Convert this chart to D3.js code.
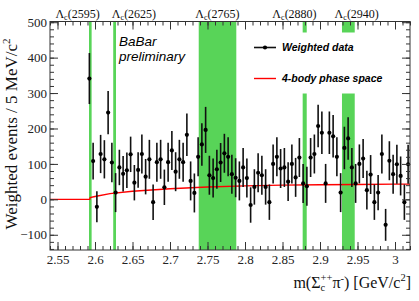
<!DOCTYPE html>
<html><head><meta charset="utf-8">
<script src="https://cdn.jsdelivr.net/npm/d3@7"></script>
<style>
html,body{margin:0;padding:0;background:#fff;}
svg{display:block;}
</style></head>
<body>
<script>
// ---- data ----
const massBins = [2.5925,2.5975,2.6025,2.6075,2.6125,2.6175,2.6225,2.6275,2.6325,2.6375,
2.6425,2.6475,2.6525,2.6575,2.6625,2.6675,2.6725,2.6775,2.6825,2.6875,
2.6925,2.6975,2.7025,2.7075,2.7125,2.7175,2.7225,2.7275,2.7325,2.7375,
2.7425,2.7475,2.7525,2.7575,2.7625,2.7675,2.7725,2.7775,2.7825,2.7875,
2.7925,2.7975,2.8025,2.8075,2.8125,2.8175,2.8225,2.8275,2.8325,2.8375,
2.8425,2.8475,2.8525,2.8575,2.8625,2.8675,2.8725,2.8775,2.8825,2.8875,
2.8925,2.8975,2.9025,2.9075,2.9125,2.9175,2.9225,2.9275,2.9325,2.9375,
2.9425,2.9475,2.9525,2.9575,2.9625,2.9675,2.9725,2.9775,2.9825,2.9875,
2.9925,2.9975,3.0025,3.0075,3.0125,3.0175];
const weighted = [341,108,-21,128,113,245,104,19,90,72,
82,127,47,83,128,64,113,-8,105,113,
34,105,138,78,113,105,182,52,18,120,
155,196,68,60,85,104,130,120,71,61,
52,90,60,-16,35,75,68,35,-8,100,
120,87,90,50,100,62,118,45,37,118,
128,207,188,45,188,178,120,19,145,172,
90,45,100,115,26,70,-8,19,128,-72,
109,71,99,66,-8,99];
const errors = [72,52,44,54,54,61,56,55,50,50,
50,50,50,50,55,50,55,50,55,55,
50,55,55,55,55,55,60,55,55,55,
60,65,55,55,55,55,55,55,55,55,
55,55,55,50,50,55,55,50,50,55,
55,55,55,55,55,55,55,55,55,55,
55,60,60,55,60,60,55,55,60,60,
55,55,55,55,55,55,50,50,55,45,
55,55,55,55,50,55];
const psMass = [2.54,2.593,2.5935,2.60,2.62,2.65,2.70,2.75,2.80,2.85,2.90,2.95,3.00,3.02];
const psValue = [0,0,5,8,16,23,30,35,38,40,41,42,43,43];
const resonances = ["2595","2625","2765","2880","2940"];
const bandLo = [2.592,2.6243,2.7383,2.8769,2.9293];
const bandHi = [2.5955,2.628,2.7884,2.8823,2.9463];
const xTicks = [2.55,2.6,2.65,2.7,2.75,2.8,2.85,2.9,2.95,3];
const xTickLabels = ["2.55","2.6","2.65","2.7","2.75","2.8","2.85","2.9","2.95","3"];
const yTicks = [-100,0,100,200,300,400,500];
const legendLabels = ["Weighted data","4-body phase space"];

// ---- layout ----
const W = 419, H = 301;
const L = 50, R = 410, T = 21.5, B = 250;
const labelMass = [2.5767,2.652,2.7633,2.866,2.949];
const serif = "'Liberation Serif','Times New Roman',serif";
const sans = "'Liberation Sans',Arial,Helvetica,sans-serif";
const green = "#58d458";

const svg = d3.select("body").append("svg").attr("width",W).attr("height",H);
const x = d3.scaleLinear().domain([2.54,3.02]).range([L,R]);
const y = d3.scaleLinear().domain([-143,502]).range([B,T]);

// bands
svg.append("g").selectAll("rect").data(bandLo).join("rect")
  .attr("x",(d)=>x(d)).attr("width",(d,i)=>x(bandHi[i])-x(d))
  .attr("y",T).attr("height",B-T).attr("fill",green);

// phase space curve
const ps = psMass.map((m,i)=>[m,psValue[i]]);
svg.append("path").datum(ps)
  .attr("d",d3.line().x(d=>x(d[0])).y(d=>y(d[1])))
  .attr("fill","none").attr("stroke","#ff0000").attr("stroke-width",1.4);

// data points
const pts = massBins.map((m,i)=>({m,v:weighted[i],e:errors[i]}));
const gd = svg.append("g");
gd.selectAll("line").data(pts).join("line")
  .attr("x1",d=>x(d.m)).attr("x2",d=>x(d.m))
  .attr("y1",d=>y(Math.min(d.v+d.e,502))).attr("y2",d=>y(Math.max(d.v-d.e,-143)))
  .attr("stroke","#111").attr("stroke-width",1.6);
gd.selectAll("circle").data(pts).join("circle")
  .attr("cx",d=>x(d.m)).attr("cy",d=>y(d.v)).attr("r",2.1).attr("fill","#000");

// legend box (white)
svg.append("rect").attr("x",245).attr("y",32.5).attr("width",150).attr("height",61).attr("fill","#fff");
const lg = svg.append("g");
lg.append("line").attr("x1",254).attr("x2",276).attr("y1",47.5).attr("y2",47.5).attr("stroke","#111").attr("stroke-width",1.6);
lg.append("circle").attr("cx",265).attr("cy",47.5).attr("r",2.1).attr("fill","#000");
lg.append("line").attr("x1",254).attr("x2",276).attr("y1",78.5).attr("y2",78.5).attr("stroke","#ff0000").attr("stroke-width",1.4);
lg.selectAll("text").data(legendLabels).join("text")
  .attr("x",282).attr("y",(d,i)=>i?82:51)
  .attr("font-family",sans).attr("font-size",10.5).attr("font-weight","bold").attr("font-style","italic")
  .attr("fill","#000").text(d=>d);

// BaBar preliminary
svg.append("text").attr("x",119).attr("y",46).attr("font-family",sans).attr("font-style","italic")
  .attr("font-size",13.5).text("BaBar");
svg.append("text").attr("x",119).attr("y",61).attr("font-family",sans).attr("font-style","italic")
  .attr("font-size",13.5).text("preliminary");

// axes
const axc = "#333";
function ticksAt(step,lo,hi){const a=[];for(let v=lo;v<=hi+1e-9;v+=step)a.push(+v.toFixed(4));return a;}
const xMinor = ticksAt(0.01,2.54,3.02);
const yMinor = ticksAt(20,-140,500);

svg.append("g").attr("transform",`translate(0,${B})`)
  .call(d3.axisBottom(x).tickValues(xTicks).tickFormat((d,i)=>xTickLabels[i]).tickSize(-8).tickPadding(5));
svg.append("g").attr("transform",`translate(0,${B})`)
  .call(d3.axisBottom(x).tickValues(xMinor).tickFormat("").tickSize(-4));
svg.append("g").attr("transform",`translate(0,${T})`)
  .call(d3.axisTop(x).tickValues(xTicks).tickFormat("").tickSize(-8));
svg.append("g").attr("transform",`translate(0,${T})`)
  .call(d3.axisTop(x).tickValues(xMinor).tickFormat("").tickSize(-4));
svg.append("g").attr("transform",`translate(${L},0)`)
  .call(d3.axisLeft(y).tickValues(yTicks).tickSize(-8).tickPadding(3));
svg.append("g").attr("transform",`translate(${L},0)`)
  .call(d3.axisLeft(y).tickValues(yMinor).tickFormat("").tickSize(-4));
svg.append("g").attr("transform",`translate(${R},0)`)
  .call(d3.axisRight(y).tickValues(yTicks).tickFormat("").tickSize(-8));
svg.append("g").attr("transform",`translate(${R},0)`)
  .call(d3.axisRight(y).tickValues(yMinor).tickFormat("").tickSize(-4));
svg.selectAll(".domain").remove();
svg.selectAll(".tick line").attr("stroke",axc).attr("stroke-width",1);
svg.selectAll(".tick text").attr("font-family",serif).attr("font-size",13).attr("fill","#222");
svg.append("rect").attr("x",L).attr("y",T).attr("width",R-L).attr("height",B-T)
  .attr("fill","none").attr("stroke",axc).attr("stroke-width",1);

// resonance labels
const rl = svg.append("g");
resonances.forEach((r,i)=>{
  const t = rl.append("text").attr("x",x(labelMass[i])).attr("y",17.5).attr("text-anchor","middle")
    .attr("font-family",serif).attr("font-size",12).attr("fill","#111");
  t.append("tspan").text("Λ");
  t.append("tspan").attr("font-size",8).attr("dy",2.5).text("c");
  t.append("tspan").attr("dy",-2.5).text("("+r+")");
});

// y title
const yt = svg.append("text").attr("transform",`translate(17,134) rotate(-90)`).attr("text-anchor","middle")
  .attr("font-family",serif).attr("font-size",17).attr("fill","#111");
yt.append("tspan").text("Weighted events / 5 MeV/c");
yt.append("tspan").attr("font-size",11).attr("dy",-7).text("2");

// x title
const xt = svg.append("text").attr("x",411).attr("y",288).attr("text-anchor","end")
  .attr("font-family",serif).attr("font-size",16).attr("fill","#111");
xt.append("tspan").text("m(Σ");
xt.append("tspan").attr("font-size",10.5).attr("dy",3).text("c");
xt.append("tspan").attr("font-size",10.5).attr("dx",-4.6).attr("dy",-10.5).text("++");
xt.append("tspan").attr("dy",7.5).text("π");
xt.append("tspan").attr("font-size",10.5).attr("dy",-6).text("-");
xt.append("tspan").attr("dy",6).text(") [GeV/c");
xt.append("tspan").attr("font-size",10.5).attr("dy",-7).text("2");
xt.append("tspan").attr("dy",7).text("]");
</script>
</body></html>
